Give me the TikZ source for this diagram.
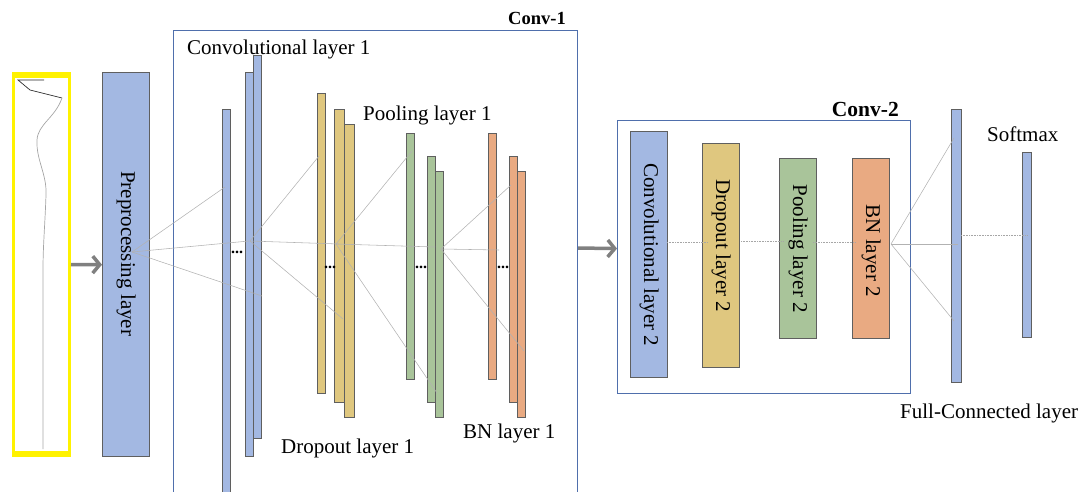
\documentclass[tikz,border=0pt]{standalone}
\usepackage{fontspec}
\setmainfont{Liberation Serif}
\usetikzlibrary{arrows.meta}

\definecolor{barblue}{RGB}{163,184,226}
\definecolor{baryellow}{RGB}{223,199,127}
\definecolor{bargreen}{RGB}{169,196,154}
\definecolor{barorange}{RGB}{233,170,130}
\definecolor{barline}{RGB}{95,95,95}
\definecolor{boxblue}{RGB}{79,111,172}
\definecolor{flowgray}{RGB}{128,128,128}

\tikzset{
  bar/.style={draw=barline, line width=1.4pt, inner sep=0pt, anchor=north west},
  stage/.style={draw=boxblue, line width=1.2pt, inner sep=0pt, anchor=north west},
  lbl/.style={font=\fontsize{21}{24}\selectfont, inner sep=0pt},
  stagelbl/.style={font=\bfseries\fontsize{#1}{22}\selectfont, inner sep=0pt, anchor=base east},
  link/.style={draw=gray!60, line width=0.55pt},
  chain/.style={draw=gray!70, line width=0.6pt, dash pattern=on 1pt off 0.6pt},
  flow/.style={draw=flowgray, line width=3.5pt, -{Straight Barb[length=7pt,width=17pt]}},
  dots/.style={font=\bfseries\fontsize{16}{16}\selectfont, inner sep=0pt, anchor=base}
}

\begin{document}
\begin{tikzpicture}[x=1pt, y=-1pt]
    \useasboundingbox (0,0) rectangle (1085,492);
    \clip (0,0) rectangle (1085,492);

    % Input signal
    \node[draw=yellow, line width=3pt, minimum width=56, minimum height=376, anchor=north west] (sig) at (12,75) {};
    \draw[yellow, line width=5pt] (sig.north west) -- (sig.north east);
    \draw[yellow, line width=5pt] (sig.south west) -- (sig.south east);
    \draw[gray!30!black, line width=0.7pt] (44,80) -- (18,80) -- (30,90) -- (62,98);
    \draw[gray!70, line width=0.7pt] (62,98) .. controls (55,118) and (38,124) .. (37,140)
        .. controls (36,160) and (47,174) .. (46,195) .. controls (45,225) and (43,245) .. (43,270) -- (43,449);

    % Stage boxes
    \node[stage, minimum width=404, minimum height=475] (conv1) at (173,30) {};
    \node[stage, minimum width=293, minimum height=273] (conv2) at (617,120) {};
    \node[stagelbl=18.5] at (566,25) {Conv-1};
    \node[stagelbl=21.5] at (899,117) {Conv-2};

    % Layer bars
    \foreach \n/\c/\x/\y/\w/\h in {
        pre/barblue/102/72/47/384,
        c1a/barblue/222/109/8/395, c1b/barblue/245/72/8/384, c1c/barblue/253/55/8/383,
        d1a/baryellow/317/93/8/300, d1b/baryellow/334/109/10/293, d1c/baryellow/344/124/10/293,
        p1a/bargreen/406/133/8/246, p1b/bargreen/427/156/8/246, p1c/bargreen/435/171/8/246,
        b1a/barorange/488/133/8/246, b1b/barorange/509/156/8/246, b1c/barorange/517/171/8/246,
        c2/barblue/630/131/37/246, d2/baryellow/702/143/37/224,
        p2/bargreen/779/158/37/180, b2/barorange/852/158/37/180,
        fc/barblue/951/109/10/273, sm/barblue/1022/152/9/185}
        \node[bar, fill=\c, minimum width=\w, minimum height=\h] (\n) at (\x,\y) {};

    % Labels in bars
    \node[lbl, rotate=-90] at ([yshift=11pt]pre.center) {Preprocessing layer};
    \node[lbl, rotate=-90] at (c2.center) {Convolutional layer 2};
    \node[lbl, rotate=-90] at ([yshift=10pt]d2.center) {Dropout layer 2};
    \node[lbl, rotate=-90] at (p2.center) {Pooling layer 2};
    \node[lbl, rotate=-90] at ([yshift=-2pt]b2.center) {BN layer 2};

    % Labels outside
    \node[lbl, anchor=base west] at (187,55) {Convolutional layer 1};
    \node[lbl, anchor=base west] at (363,121) {Pooling layer 1};
    \node[lbl, anchor=base west] at (281,453) {Dropout layer 1};
    \node[lbl, anchor=base west] at (463,438) {BN layer 1};
    \node[lbl, anchor=base west] at (987,142) {Softmax};
    \node[lbl, anchor=base west] at (900,418) {Full-Connected layer};

    % Dots between maps
    \node[dots] at (237,253) {...};
    \node[dots] at (330,268) {...};
    \node[dots] at (421,268) {...};
    \node[dots] at (503,268) {...};

    % Fan points
    \foreach \n/\x/\y in {
        h0/132/252, e0a/225/187, e0b/249/241, e0c/262/296,
        h1/250/241, e1a/319/156, e1b/339/244, e1c/343/319,
        h2/336/244, e2a/412/151, e2b/435/247, e2c/437/393,
        h3/441/249, e3a/511/185, e3b/499/250, e3c/524/351,
        h4/891/244, e4a/954/138, e4b/958/244, e4c/954/321,
        k1/667/242, k2/708/242, k3/741/241, k4/783/241, k5/813/242, k6/856/242,
        s1/961/235, s2/1027/235}
        \coordinate (\n) at (\x,\y);

    % Connections
    \foreach \a/\b in {h0/e0a, h0/e0b, h0/e0c, h1/e1a, h1/e1b, h1/e1c,
        h2/e2a, h2/e2b, h2/e2c, h3/e3a, h3/e3b, h3/e3c, h4/e4a, h4/e4b, h4/e4c}
        \draw[link] (\a) -- (\b);
    \foreach \a/\b in {k1/k2, k3/k4, k5/k6, s1/s2}
        \draw[chain] (\a) -- (\b);

    % Flow arrows
    \draw[flow] (sig.east) -- (pre.west);
    \draw[flow] (conv1.east |- 0,248) -- ([yshift=8.5pt]conv2.west);
\end{tikzpicture}
\end{document}
